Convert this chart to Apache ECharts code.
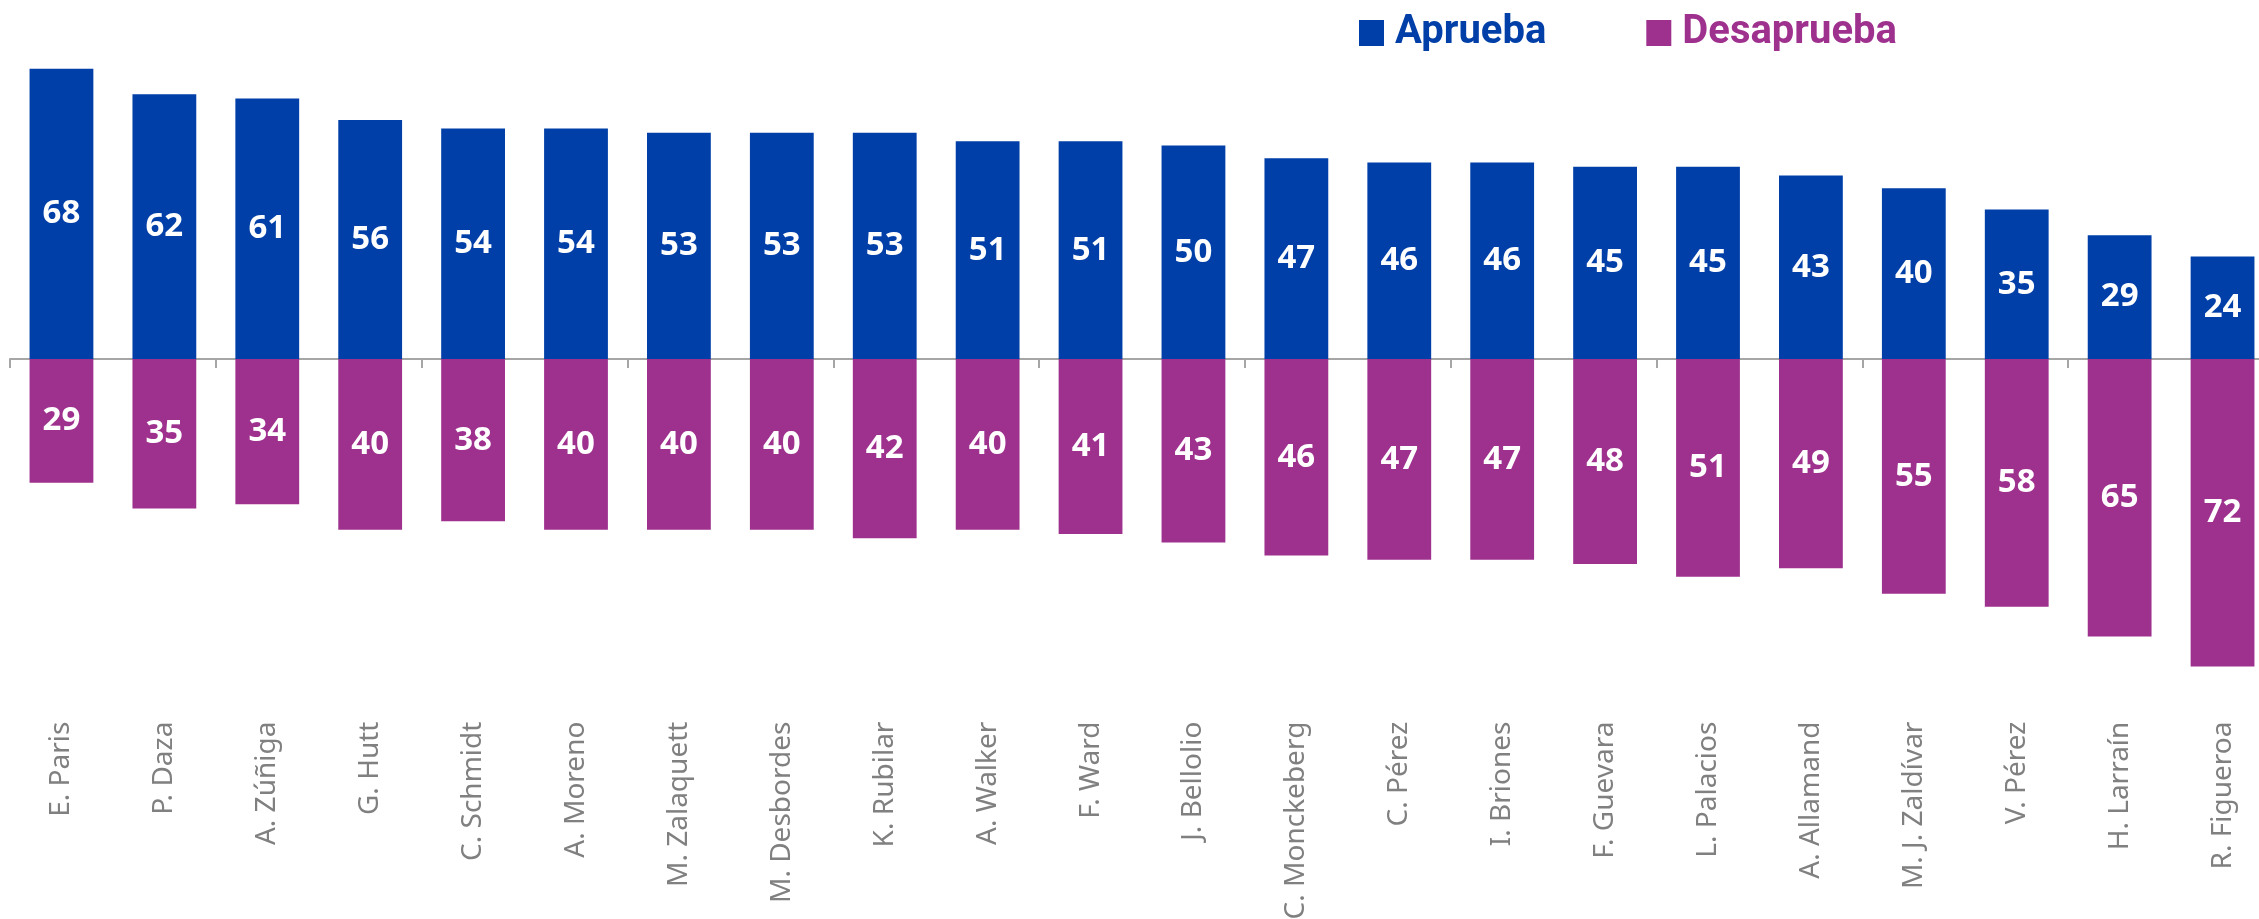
<!DOCTYPE html>
<html>
<head>
<meta charset="utf-8">
<script src="https://cdn.jsdelivr.net/npm/echarts@6/dist/echarts.min.js"></script>
<style>
  html, body { margin: 0; padding: 0; background: #fff; }
  #chart { width: 2259px; height: 919px; }
</style>
</head>
<body>
<div id="chart"></div>
<script>
const nombres = ['E. Paris', 'P. Daza', 'A. Zúñiga', 'G. Hutt', 'C. Schmidt', 'A. Moreno',
  'M. Zalaquett', 'M. Desbordes', 'K. Rubilar', 'A. Walker', 'F. Ward', 'J. Bellolio',
  'C. Monckeberg', 'C. Pérez', 'I. Briones', 'F. Guevara', 'L. Palacios', 'A. Allamand',
  'M. J. Zaldívar', 'V. Pérez', 'H. Larraín', 'R. Figueroa']
const aprueba = [68, 62, 61, 56, 54, 54, 53, 53, 53, 51, 51, 50, 47, 46, 46, 45, 45, 43, 40, 35, 29, 24]
const desaprueba = [29, 35, 34, 40, 38, 40, 40, 40, 42, 40, 41, 43, 46, 47, 47, 48, 51, 49, 55, 58, 65, 72]

const AZUL = '#003FA7'
const MORADO = '#9F318E'

const chart = echarts.init(document.getElementById('chart'))

const valueLabel = {
  show: true,
  position: 'inside',
  color: '#fff',
  fontFamily: 'Noto Sans',
  fontWeight: 'bold',
  fontSize: 33,
  formatter: (p) => Math.abs(p.value)
}

const option = {
  animation: false,
  legend: {
    left: 1359,
    top: 13,
    padding: 0,
    icon: 'rect',
    itemWidth: 25,
    itemHeight: 26,
    itemGap: 100,
    textStyle: {
      fontFamily: 'Roboto',
      fontWeight: 'bold',
      fontSize: 40,
      padding: [0, 0, 0, 6]
    },
    data: [
      { name: 'Aprueba', textStyle: { color: AZUL } },
      { name: 'Desaprueba', textStyle: { color: MORADO } }
    ]
  },
  grid: { left: 10, right: -15, top: 17.4, bottom: 218.4, outerBoundsMode: 'none' },
  xAxis: [
    {
      type: 'category',
      data: nombres,
      axisLine: { onZero: true, lineStyle: { color: '#A6A6A6', width: 2 } },
      axisTick: { show: true, length: 9, lineStyle: { color: '#A6A6A6', width: 2 } },
      axisLabel: { show: false }
    },
    {
      type: 'category',
      data: nombres,
      position: 'bottom',
      axisLine: { show: false, onZero: false },
      axisTick: { show: false },
      axisLabel: {
        rotate: 90,
        margin: 21,
        interval: 0,
        color: '#808080',
        fontFamily: 'Noto Sans',
        fontSize: 28
      }
    }
  ],
  yAxis: {
    type: 'value',
    min: -80,
    max: 80,
    show: false,
    splitLine: { show: false }
  },
  series: [
    {
      name: 'Aprueba',
      type: 'bar',
      stack: 'total',
      barWidth: '62%',
      data: aprueba,
      itemStyle: { color: AZUL },
      label: valueLabel
    },
    {
      name: 'Desaprueba',
      type: 'bar',
      stack: 'total',
      barWidth: '62%',
      data: desaprueba.map(v => -v),
      itemStyle: { color: MORADO },
      label: valueLabel
    }
  ]
}

chart.setOption(option)
window.addEventListener('resize', () => chart.resize())
</script>
</body>
</html>
